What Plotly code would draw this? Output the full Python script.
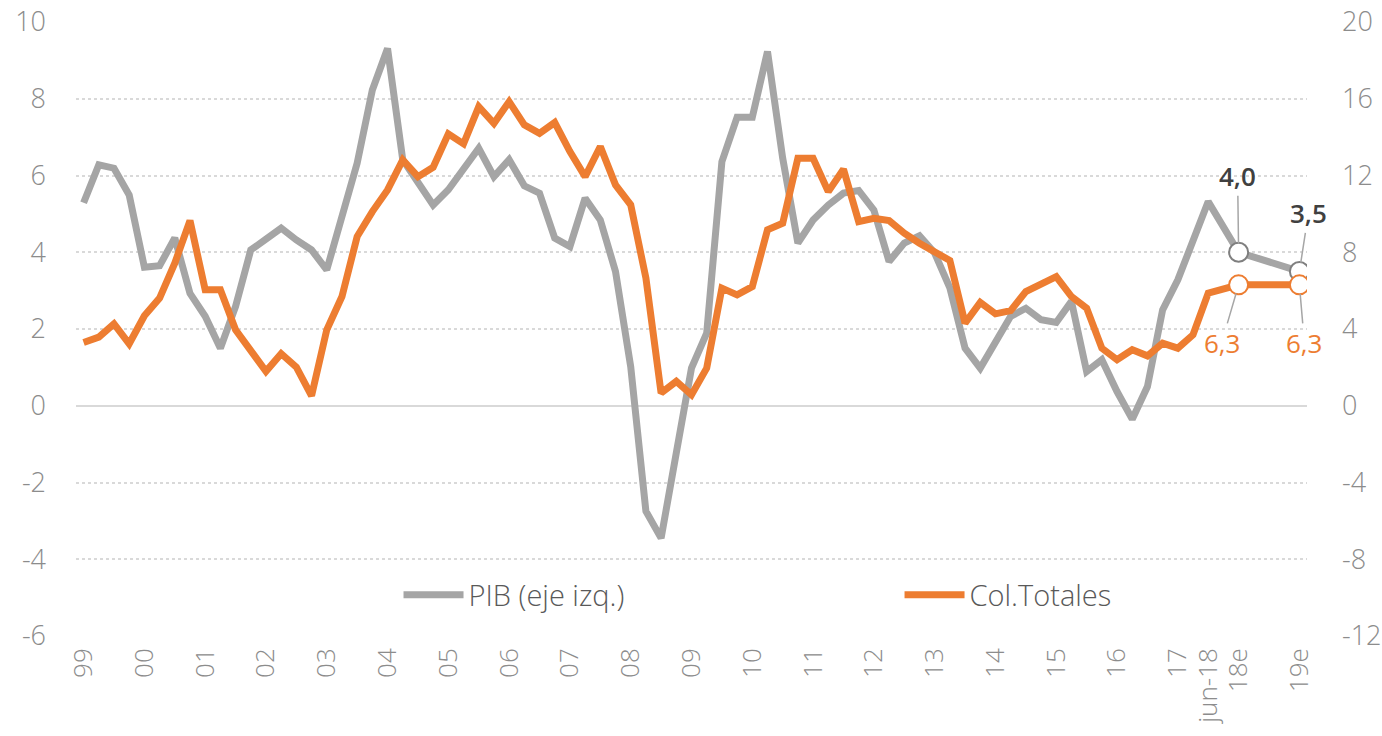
import pandas as pd
import plotly.graph_objects as go

# ---------------- data ----------------
quarters = [f"{m}-{str(p.year)[2:]}" for p in pd.period_range("1999Q4", "2018Q2", freq="Q")
            for m in [{1: "mar", 2: "jun", 3: "sep", 4: "dic"}[p.quarter]]]
est_cats = ["18e", "19e"]
category_order = quarters + ["g1", "18e", "g2", "g3", "g4", "19e"]

pib_q = [5.29, 6.28, 6.19, 5.49, 3.61, 3.65, 4.37, 2.93, 2.33, 1.50, 2.59, 4.06, 4.34, 4.63, 4.32, 4.06, 3.54,
         4.93, 6.32, 8.23, 9.31, 6.41, 5.82, 5.23, 5.63, 6.15, 6.71, 5.97, 6.41, 5.73, 5.54, 4.37, 4.15, 5.41,
         4.84, 3.50, 1.02, -2.75, -3.45, -1.23, 0.98, 1.89, 6.36, 7.52, 7.52, 9.23, 6.45, 4.24, 4.84, 5.23,
         5.54, 5.61, 5.10, 3.76, 4.24, 4.43, 3.98, 3.07, 1.50, 0.98, 1.63, 2.33, 2.54, 2.24, 2.17, 2.72,
         0.89, 1.20, 0.37, -0.35, 0.50, 2.50, 3.28, 4.32, 5.32]
col_q = [3.30, 3.58, 4.27, 3.23, 4.69, 5.61, 7.43, 9.65, 6.04, 6.04, 3.96, 2.92, 1.79, 2.71, 2.01, 0.52, 3.96,
         5.69, 8.82, 10.12, 11.25, 12.81, 11.94, 12.43, 14.17, 13.65, 15.59, 14.72, 15.85, 14.64, 14.20, 14.76, 13.25, 11.94,
         13.51, 11.51, 10.47, 6.65, 0.66, 1.27, 0.57, 1.96, 6.13, 5.78, 6.21, 9.17, 9.51, 12.90, 12.90, 11.16,
         12.33, 9.60, 9.77, 9.65, 8.99, 8.47, 8.04, 7.57, 4.31, 5.38, 4.79, 4.96, 5.95, 6.30, 6.73, 5.69,
         5.09, 3.00, 2.40, 2.92, 2.60, 3.26, 3.00, 3.70, 5.87]
pib_est = [4.0, 3.5]
col_est = [6.3, 6.3]

tick_cats = [quarters[i] for i in range(0, 73, 4)] + ["jun-18", "18e", "19e"]
tick_text = ["99", "00", "01", "02", "03", "04", "05", "06", "07", "08", "09", "10", "11", "12",
             "13", "14", "15", "16", "17", "jun-18", "18e", "19e"]
left_ticks = [-6, -4, -2, 0, 2, 4, 6, 8, 10]
left_text = ["-6", "-4", "-2", "0", "2", "4", "6", "8", "10"]
right_ticks = [-12, -8, -4, 0, 4, 8, 12, 16, 20]
right_text = ["-12", "-8", "-4", "0", "4", "8", "12", "16", "20"]

GRAY = "#A5A5A5"
ORANGE = "#ED7D31"
FONT = "Open Sans"

fig = go.Figure()
fig.add_trace(go.Scatter(x=quarters + est_cats, y=pib_q + pib_est, name="PIB (eje izq.)",
                         mode="lines", line=dict(color=GRAY, width=7), yaxis="y", legend="legend"))
fig.add_trace(go.Scatter(x=quarters + est_cats, y=col_q + col_est, name="Col.Totales",
                         mode="lines", line=dict(color=ORANGE, width=7), yaxis="y2", legend="legend2"))
fig.add_trace(go.Scatter(x=est_cats, y=pib_est, mode="markers", showlegend=False, yaxis="y",
                         marker=dict(size=19, color="white", line=dict(color="#7F7F7F", width=2))))
fig.add_trace(go.Scatter(x=est_cats, y=col_est, mode="markers", showlegend=False, yaxis="y2",
                         marker=dict(size=19, color="white", line=dict(color=ORANGE, width=2))))

def fmt(v):
    return f"{v:.1f}".replace(".", ",")

ann = []
for xc, v, ax, ay in zip(est_cats, pib_est, [-1, 9], [-76, -58]):
    ann.append(dict(x=xc, y=v, xref="x", yref="y", text=fmt(v), showarrow=True, arrowhead=0,
                    arrowwidth=1.5, arrowcolor="#A6A6A6", ax=ax, ay=ay, standoff=9,
                    font=dict(family=FONT, size=26, color="#404040", weight=600)))
for xc, v, ax, ay in zip(est_cats, col_est, [-17, 5], [58, 58]):
    ann.append(dict(x=xc, y=v, xref="x", yref="y2", text=fmt(v), showarrow=True, arrowhead=0,
                    arrowwidth=1.5, arrowcolor="#A6A6A6", ax=ax, ay=ay, standoff=9,
                    font=dict(family=FONT, size=26, color=ORANGE)))

leg_common = dict(orientation="h", yanchor="middle", xanchor="left", bgcolor="rgba(0,0,0,0)",
                  font=dict(family=FONT, size=29, color="#595959", weight=300), itemwidth=60)

tickfont = dict(family=FONT, size=27, color="#8C8C8C", weight=300)

fig.update_layout(
    width=1382, height=736,
    margin=dict(l=76, r=75, t=22, b=100, autoexpand=False),
    paper_bgcolor="white", plot_bgcolor="white",
    font=dict(family=FONT, color="#7F7F7F"),
    showlegend=True,
    legend=dict(x=0.262, y=0.067, **leg_common),
    legend2=dict(x=0.669, y=0.067, **leg_common),
    xaxis=dict(type="category", categoryorder="array", categoryarray=category_order,
               range=[-0.5, len(category_order) - 0.5], tickmode="array",
               tickvals=tick_cats, ticktext=tick_text, tickangle=-90, showgrid=False,
               showline=False, zeroline=False, ticks="", automargin=False, ticklabelstandoff=6,
               tickfont=dict(family=FONT, size=26, color="#8C8C8C", weight=300)),
    yaxis=dict(range=[-6, 10], tickmode="array", tickvals=left_ticks, ticktext=left_text,
               showgrid=True, gridcolor="#D9D9D9", griddash="dot",
               gridwidth=1.5, zeroline=True, zerolinecolor="#D9D9D9", zerolinewidth=2,
               showline=False, ticks="", ticklabelstandoff=29, automargin=False, tickfont=tickfont),
    yaxis2=dict(range=[-12, 20], tickmode="array", tickvals=right_ticks, ticktext=right_text,
                overlaying="y", side="right", showgrid=False,
                zeroline=False, showline=False, ticks="", ticklabelstandoff=34, automargin=False,
                tickfont=tickfont),
    annotations=ann,
)

fig.write_html("out.html", config={"displayModeBar": False},
               post_script="document.body.style.margin='0px';")
